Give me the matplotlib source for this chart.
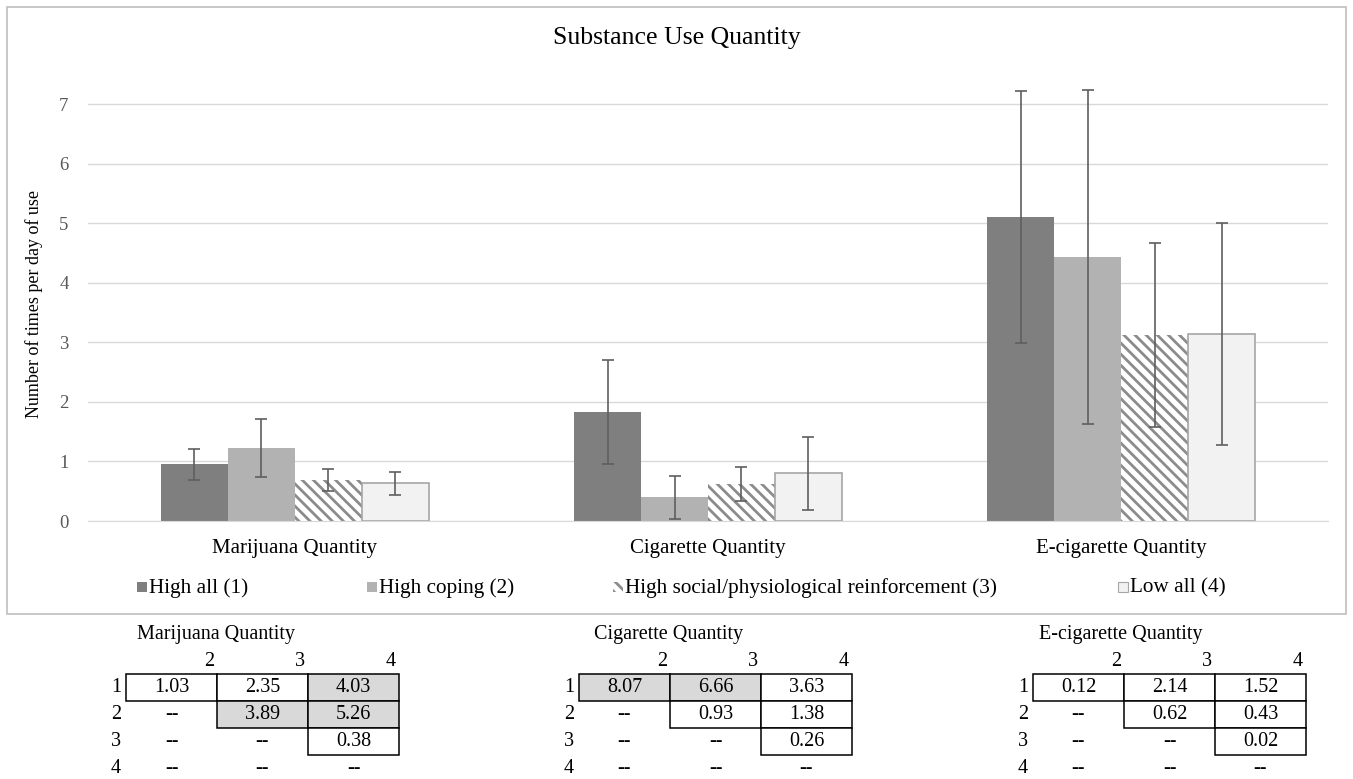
import numpy as np
import matplotlib.pyplot as plt
from matplotlib.patches import Rectangle

plt.rcParams['font.family'] = ['Liberation Serif', 'DejaVu Serif']
plt.rcParams['hatch.linewidth'] = 2.0

# bar chart data
categories = ['Marijuana Quantity', 'Cigarette Quantity', 'E-cigarette Quantity']
groups = ['High all (1)', 'High coping (2)',
          'High social/physiological reinforcement (3)', 'Low all (4)']
means = [
    [0.95, 1.83, 5.10],   # high all
    [1.23, 0.40, 4.43],   # high coping
    [0.69, 0.62, 3.12],   # high social
    [0.63, 0.80, 3.14],   # low all
]
errors = [
    [0.26, 0.87, 2.12],
    [0.49, 0.36, 2.80],
    [0.18, 0.29, 1.55],
    [0.195, 0.61, 1.87],
]

# pairwise comparison tables (row, col) -> value
table_titles = ['Marijuana Quantity', 'Cigarette Quantity', 'E-cigarette Quantity']
table_values = [
    [['1.03', '2.35', '4.03'], ['--', '3.89', '5.26'], ['--', '--', '0.38'], ['--', '--', '--']],
    [['8.07', '6.66', '3.63'], ['--', '0.93', '1.38'], ['--', '--', '0.26'], ['--', '--', '--']],
    [['0.12', '2.14', '1.52'], ['--', '0.62', '0.43'], ['--', '--', '0.02'], ['--', '--', '--']],
]
table_shaded = [
    [(0, 2), (1, 1), (1, 2)],
    [(0, 0), (0, 1)],
    [],
]

W, H = 1353, 779
fig = plt.figure(figsize=(W / 100, H / 100), dpi=100)

def px_axes(x0, y0, x1, y1):
    return fig.add_axes([x0 / W, 1 - y1 / H, (x1 - x0) / W, (y1 - y0) / H])

# overlay in pixel coords for frame, title, legend and tables
ov = px_axes(0, 0, W, H)
ov.set_xlim(0, W)
ov.set_ylim(H, 0)
ov.axis('off')
ov.add_patch(Rectangle((7, 7), 1339, 607, fill=False, edgecolor='#bfbfbf', lw=1.2))
ov.text(677, 38, 'Substance Use Quantity', fontsize=18.5, ha='center', va='center')

ymax = 7.3
ax = px_axes(88, 521 - ymax * 59.57, 1328, 521)
ax.set_zorder(2)
ax.patch.set_alpha(0)

x = np.arange(len(categories))
width = 0.162
faces = ['#7f7f7f', '#b2b2b2', 'white', '#f2f2f2']
edges = ['#7f7f7f', '#b2b2b2', '#8c8c8c', '#a6a6a6']
hatches = [None, None, '\\\\\\', None]
lws = [0, 0, 0, 1.2]

for i in range(len(groups)):
    pos = x + (i - 1.5) * width
    ax.bar(pos, means[i], width, color=faces[i], edgecolor=edges[i],
           hatch=hatches[i], linewidth=lws[i], zorder=2)
    ax.errorbar(pos, means[i], yerr=errors[i], fmt='none', ecolor='#5f5f5f',
                elinewidth=1.2, capsize=4, capthick=1.2, zorder=3)

ax.set_xlim(-0.5, 2.5)
ax.set_ylim(0, ymax)
ax.set_yticks(range(0, 8))
ax.yaxis.grid(True, color='#d9d9d9', lw=1)
ax.set_axisbelow(True)
for s in ['top', 'right', 'left']:
    ax.spines[s].set_visible(False)
ax.spines['bottom'].set_color('#d9d9d9')
ax.tick_params(axis='y', length=0, labelsize=13.5, colors='#595959', pad=14)
ax.tick_params(axis='x', length=0, labelsize=15, pad=13)
ax.set_xticks(x)
ax.set_xticklabels(categories)
ax.set_ylabel('Number of times per day of use', fontsize=13, labelpad=12)

# legend
leg_x = [137, 367, 613, 1118]
for i, g in enumerate(groups):
    ov.add_patch(Rectangle((leg_x[i], 582), 10, 10, facecolor=faces[i],
                           edgecolor=edges[i], hatch=hatches[i],
                           lw=0.8 if i == 3 else 0))
    ov.text(leg_x[i] + 12, 592.5, g, fontsize=15.3, va='baseline', ha='left')

# tables
offsets = [126, 579, 1033]
title_dx = [11, 15, 6]
cw, rh, top = 91, 27, 674
for t in range(3):
    x0 = offsets[t]
    ov.text(x0 + title_dx[t], 634, table_titles[t], fontsize=14.5, va='center', ha='left')
    for c in range(3):
        ov.text(x0 + (c + 1) * cw - 3, 661, str(c + 2), fontsize=14.5, va='center', ha='right')
    for r in range(4):
        yc = top + r * rh + rh / 2
        ov.text(x0 - 5, yc, str(r + 1), fontsize=14.5, va='center', ha='right')
        for c in range(3):
            val = table_values[t][r][c]
            if val != '--':
                fc = '#d9d9d9' if (r, c) in table_shaded[t] else 'white'
                ov.add_patch(Rectangle((x0 + c * cw, top + r * rh), cw, rh,
                                       facecolor=fc, edgecolor='black', lw=1.1))
            ov.text(x0 + c * cw + cw / 2, yc, val, fontsize=14.5, va='center', ha='center')

fig.savefig('out.png', dpi=100)
